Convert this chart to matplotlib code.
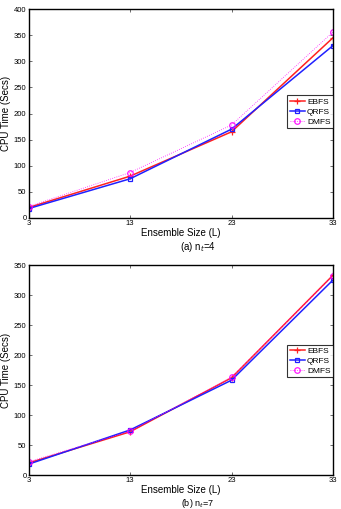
import matplotlib
matplotlib.use("Agg")
import matplotlib.pyplot as plt

L = [3, 13, 23, 33]
ebfs_a = [20, 80, 165, 345]
qrfs_a = [18, 75, 170, 330]
dmfs_a = [22, 87, 178, 356]
ebfs_b = [20, 72, 162, 333]
qrfs_b = [18, 75, 158, 325]
dmfs_b = [22, 73, 163, 332]
yticks_a = [0, 50, 100, 150, 200, 250, 300, 350, 400]
yticks_b = [0, 50, 100, 150, 200, 250, 300, 350]

plt.rcParams['font.family'] = ['Liberation Sans', 'DejaVu Sans']

fig = plt.figure(figsize=(3.41, 5.09), dpi=100)
ax1 = fig.add_axes([28.5/341, 1-218/509, 304.5/341, 209/509])
ax2 = fig.add_axes([28.5/341, 1-475/509, 304.5/341, 210/509])

def draw(ax, e, q, d, ylim, yt, legy):
    ax.plot(L, e, color='#ff2020', marker='+', ms=4, lw=1.1, label='EBFS', mew=0.9)
    ax.plot(L, q, color='#2020ff', marker='s', ms=3, lw=1.1, label='QRFS', mfc='none', mew=0.9)
    ax.plot(L, d, color='#ff00ff', marker='o', ms=4, lw=0.6, ls=':', label='DMFS', mfc='none', mew=0.9, alpha=0.9)
    ax.set_xlim(3, 33)
    ax.set_ylim(*ylim)
    ax.set_xticks(L)
    ax.set_yticks(yt)
    ax.tick_params(direction='in', length=2.5, labelsize=5.5, top=True, right=True, pad=1.5, color='#555555', width=0.6)
    for s in ax.spines.values():
        s.set_linewidth(1.0)
    ax.set_xlabel('Ensemble Size (L)', fontsize=7, labelpad=0.5)
    ax.set_ylabel('CPU Time (Secs)', fontsize=7, labelpad=2)
    leg = ax.legend(loc='lower right', bbox_to_anchor=(1.0, legy), fontsize=6, frameon=True,
                    fancybox=False, edgecolor='black', handlelength=1.8, borderpad=0.3,
                    labelspacing=0.25, handletextpad=0.3, borderaxespad=0.0)
    leg.get_frame().set_linewidth(0.8)

draw(ax1, ebfs_a, qrfs_a, dmfs_a, (0, 400), yticks_a, 0.43)
draw(ax2, ebfs_b, qrfs_b, dmfs_b, (0, 350), yticks_b, 0.465)

fig.text(198/341, 1-247/509, '(a) n$_t$=4', fontsize=7, ha='center', va='center')
fig.text(198/341, 1-504/509, '(b) n$_t$=7', fontsize=6.5, ha='center', va='center')

fig.savefig('out.png', dpi=100)
